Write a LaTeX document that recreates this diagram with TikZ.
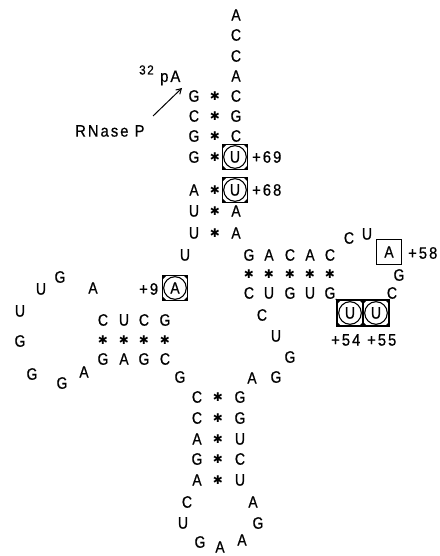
\documentclass[tikz,border=0pt]{standalone}
\usepackage{fontspec}
\setmainfont{Liberation Sans}[FakeStretch=0.85, FakeBold=0.6]
\newfontfamily\labfont{Liberation Sans}[FakeStretch=0.9, FakeBold=0.6, LetterSpace=12]
\newfontfamily\symfont{DejaVu Sans}
\usetikzlibrary{arrows.meta}
\newcommand\nuc[4]{\node[base] (#1) at (#2,#3) {#4};}
\newcommand\bpm[3]{\node[pairmark] (#1) at (#2,#3) {\symfont ✱};}
\begin{document}
\begin{tikzpicture}[x=1pt,y=-1pt,
  base/.style={inner sep=0pt, font=\fontsize{16.5}{18}\selectfont},
  lab/.style={inner sep=0pt, font=\labfont\fontsize{16.5}{18}\selectfont},
  pairmark/.style={inner sep=0pt, font=\fontsize{12}{13}\selectfont},
  sqbox/.style={draw, line width=1.1pt, minimum size=25pt, inner sep=0pt, font=\fontsize{16.5}{18}\selectfont},
  cbox/.style={sqbox, path picture={
    \draw[line width=1.1pt] (path picture bounding box.center) circle (11.3pt);
    \fill (path picture bounding box.north west) -- ++(4,0) -- ++(-4,4) -- cycle;
    \fill (path picture bounding box.north east) -- ++(-4,0) -- ++(4,4) -- cycle;
    \fill (path picture bounding box.south west) -- ++(4,0) -- ++(-4,-4) -- cycle;
    \fill (path picture bounding box.south east) -- ++(-4,0) -- ++(4,-4) -- cycle;
  }},
  conn/.style={line width=1pt}
]
\useasboundingbox (0,0) rectangle (439,556);
% acceptor end
\nuc{a1}{236}{15}{A}
\nuc{a2}{236}{35}{C}
\nuc{a3}{236}{56}{C}
\nuc{a4}{236}{76}{A}
% acceptor stem
\nuc{l1}{194}{96}{G}  \bpm{s1}{215}{96}  \nuc{r1}{236}{96}{C}
\nuc{l2}{194}{116}{C} \bpm{s2}{215}{116} \nuc{r2}{236}{116}{G}
\nuc{l3}{194}{136}{G} \bpm{s3}{215}{136} \nuc{r3}{236}{136}{C}
\nuc{l4}{194}{157}{G} \bpm{s4}{215}{157} \node[cbox] (r4) at (235,157) {U};
\nuc{l5}{194}{190}{A} \bpm{s5}{215}{190} \node[cbox] (r5) at (235,190) {U};
\nuc{l6}{194}{211}{U} \bpm{s6}{215}{211} \nuc{r6}{236}{211}{A}
\nuc{l7}{194}{233}{U} \bpm{s7}{215}{233} \nuc{r7}{236}{233}{A}
\node[lab, anchor=west] (p69) at (252,157) {+69};
\node[lab, anchor=west] (p68) at (252,190) {+68};
% 5' label and RNase P
\node[lab, font=\labfont\fontsize{13}{14}\selectfont, anchor=west] (n32) at (139,70) {32};
\node[lab, anchor=west] (pa) at (160,78) {pA};
\node[lab, anchor=west] (rn) at (75,131) {RNase P};
\coordinate (tip) at (182,88);
\draw[conn, -{Straight Barb[length=5pt,width=6pt]}] (153,116) -- (tip);
% connector to D arm
\nuc{u8}{185}{255}{U}
\node[cbox] (a9) at (175,288) {A};
\node[lab, anchor=west] (p9) at (139,289) {+9};
% D stem
\nuc{d1}{165}{320}{G} \nuc{d2}{144}{320}{C} \nuc{d3}{124}{320}{U} \nuc{d4}{103}{320}{C}
\bpm{ds1}{165}{340} \bpm{ds2}{144}{340} \bpm{ds3}{124}{340} \bpm{ds4}{103}{340}
\nuc{d5}{103}{359}{G} \nuc{d6}{124}{359}{A} \nuc{d7}{144}{359}{G} \nuc{d8}{165}{359}{C}
% D loop
\nuc{dl1}{93}{288}{A}
\nuc{dl2}{60}{277}{G}
\nuc{dl3}{41}{289}{U}
\nuc{dl4}{20}{311}{U}
\nuc{dl5}{20}{341}{G}
\nuc{dl6}{32}{374}{G}
\nuc{dl7}{62}{383}{G}
\nuc{dl8}{84}{372}{A}
\nuc{g26}{180}{377}{G}
% anticodon stem
\nuc{c1}{197}{397}{C} \bpm{cs1}{218}{397} \nuc{c10}{240}{397}{G}
\nuc{c2}{197}{418}{C} \bpm{cs2}{218}{418} \nuc{c9}{240}{418}{G}
\nuc{c3}{197}{439}{A} \bpm{cs3}{218}{439} \nuc{c8}{240}{439}{U}
\nuc{c4}{197}{459}{G} \bpm{cs4}{218}{459} \nuc{c7}{240}{459}{C}
\nuc{c5}{197}{480}{A} \bpm{cs5}{218}{480} \nuc{c6}{240}{480}{U}
% anticodon loop
\nuc{al1}{187}{502}{C}
\nuc{al2}{183}{523}{U}
\nuc{al3}{200}{542}{G}
\nuc{al4}{220}{547}{A}
\nuc{al5}{242}{540}{A}
\nuc{al6}{258}{523}{G}
\nuc{al7}{253}{502}{A}
% variable loop
\nuc{v1}{252}{378}{A}
\nuc{v2}{276}{377}{G}
\nuc{v3}{290}{357}{G}
\nuc{v4}{276}{336}{U}
\nuc{v5}{262}{315}{C}
% T stem
\nuc{t1}{249}{293}{C} \nuc{t2}{269}{293}{U} \nuc{t3}{290}{293}{G} \nuc{t4}{310}{293}{U} \nuc{t5}{330}{293}{G}
\bpm{ts1}{249}{274} \bpm{ts2}{269}{274} \bpm{ts3}{290}{274} \bpm{ts4}{310}{274} \bpm{ts5}{330}{274}
\nuc{t10}{249}{255}{G} \nuc{t9}{269}{255}{A} \nuc{t8}{290}{255}{C} \nuc{t7}{310}{255}{A} \nuc{t6}{330}{255}{C}
% T loop
\node[cbox, minimum size=26pt] (u54) at (350,313) {U};
\node[cbox, minimum size=26pt] (u55) at (376,313) {U};
\nuc{tl3}{392}{293}{C}
\nuc{tl4}{399}{275}{G}
\node[sqbox] (a58) at (389,252) {A};
\nuc{tl6}{367}{234}{U}
\nuc{tl7}{349}{238}{C}
\node[lab, anchor=west] (p54) at (331,340) {+54};
\node[lab, anchor=west] (p55) at (367,340) {+55};
\node[lab, anchor=west] (p58) at (408,253) {+58};
\draw[conn] (t5.south east) -- (u54.north west);
\end{tikzpicture}
\end{document}
